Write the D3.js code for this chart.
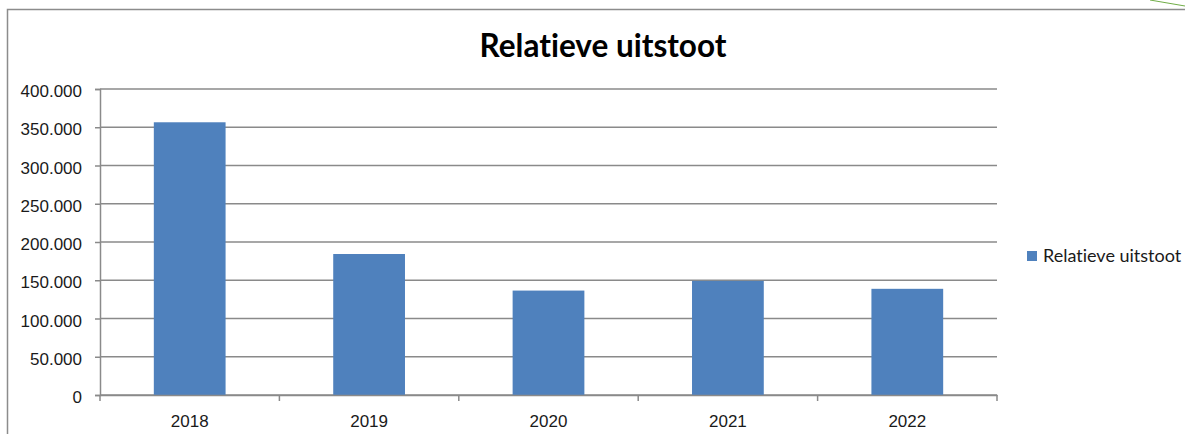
<!DOCTYPE html>
<html>
<head>
<meta charset="utf-8">
<script src="https://cdn.jsdelivr.net/npm/d3@7"></script>
<style>
  body { margin: 0; background: #fff; }
  svg { display: block; font-family: Lato, "Open Sans", sans-serif; font-variant-ligatures: none; }
</style>
</head>
<body>
<div id="chart"></div>
<script>
// chart data
const years = ["2018", "2019", "2020", "2021", "2022"];
const uitstoot = [356500, 184300, 136500, 149200, 138800];
const yTicks = [0, 50000, 100000, 150000, 200000, 250000, 300000, 350000, 400000];
const seriesName = "Relatieve uitstoot";
const chartTitle = "Relatieve uitstoot";

const width = 1185, height = 434;
const plot = { left: 100, right: 997, top: 89, bottom: 395 };
const barColor = "#4f81bd";
const gridColor = "#8a8a8a";

// dutch style number format (400.000)
const nl = d3.formatLocale({ decimal: ",", thousands: ".", grouping: [3], currency: ["€", ""] });
const fmt = nl.format(",");

let svg = d3.select("#chart")
    .append("svg")
    .attr("width", width)
    .attr("height", height);

// chart frame (only top and left edge visible)
svg.append("path")
    .attr("d", `M7.5,${height} V9.5 H${width}`)
    .attr("fill", "none")
    .attr("stroke", "#8c8c8c")
    .attr("stroke-width", 1.5);

// small green line at the top right corner
svg.append("line")
    .attr("x1", 1150).attr("y1", 0)
    .attr("x2", width).attr("y2", 6)
    .attr("stroke", "#70ad47")
    .attr("stroke-width", 1);

let x = d3.scaleBand()
    .domain(years)
    .range([plot.left, plot.right])
    .paddingInner(0.6)
    .paddingOuter(0.3);

let y = d3.scaleLinear()
    .domain([0, 400000])
    .range([plot.bottom, plot.top]);

// gridlines
svg.append("g")
    .selectAll("line")
    .data(yTicks)
    .enter()
    .append("line")
    .attr("x1", plot.left)
    .attr("x2", plot.right)
    .attr("y1", d => y(d))
    .attr("y2", d => y(d))
    .attr("stroke", gridColor)
    .attr("stroke-width", 1.5);

// bars
svg.append("g")
    .selectAll("rect")
    .data(years.map((d, i) => [d, uitstoot[i]]))
    .enter()
    .append("rect")
    .attr("x", d => x(d[0]))
    .attr("y", d => y(d[1]))
    .attr("width", x.bandwidth())
    .attr("height", d => y(0) - y(d[1]))
    .attr("fill", barColor);

// y axis
let yAxis = svg.append("g")
    .attr("transform", `translate(${plot.left},0)`)
    .call(d3.axisLeft(y).tickValues(yTicks).tickFormat(fmt).tickSize(5).tickPadding(13));
yAxis.select(".domain").attr("stroke", gridColor).attr("stroke-width", 1.5);
yAxis.selectAll(".tick line").attr("stroke", gridColor).attr("stroke-width", 1.5);
yAxis.selectAll("text")
    .attr("dy", "0.45em")
    .style("font-size", "17px")
    .attr("fill", "#1a1a1a");

// x axis (labels at centers, ticks at category boundaries)
let xAxis = svg.append("g")
    .attr("transform", `translate(0,${plot.bottom})`)
    .call(d3.axisBottom(x).tickSize(0).tickPadding(20));
xAxis.select(".domain").attr("stroke", gridColor).attr("stroke-width", 1.5);
xAxis.selectAll("text")
    .style("font-size", "17px")
    .attr("fill", "#1a1a1a");

let bounds = years.map(d => x(d) - x.step() * 0.3);
bounds.push(plot.right);
xAxis.append("g")
    .selectAll("line")
    .data(bounds)
    .enter()
    .append("line")
    .attr("x1", d => d).attr("x2", d => d)
    .attr("y1", 0).attr("y2", 6)
    .attr("stroke", gridColor)
    .attr("stroke-width", 1.5);

// title
svg.append("text")
    .attr("x", 603)
    .attr("y", 57)
    .style("text-anchor", "middle")
    .style("font-size", "31.5px")
    .style("font-weight", 700)
    .attr("fill", "#000")
    .text(chartTitle);

// legend
let legend = svg.append("g").attr("transform", "translate(1027,251)");
legend.append("rect")
    .attr("width", 10)
    .attr("height", 10)
    .attr("fill", barColor);
legend.append("text")
    .attr("x", 16)
    .attr("y", 11)
    .style("font-size", "18px")
    .attr("fill", "#1a1a1a")
    .text(seriesName);
</script>
</body>
</html>
